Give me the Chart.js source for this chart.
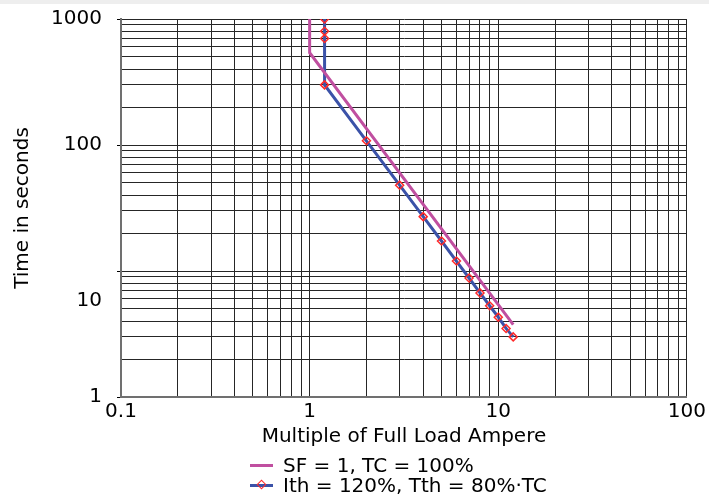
<!DOCTYPE html>
<html>
<head>
<meta charset="utf-8">
<script src="https://cdn.jsdelivr.net/npm/chart.js@4/dist/chart.umd.min.js"></script>
<style>
  body { margin: 0; background: #fff; font-family: "DejaVu Sans", sans-serif; }
  #wrap { position: relative; width: 709px; height: 496px; }
  #topbar { position: absolute; left: 0; top: 0; width: 709px; height: 4px; background: #eee; }
  #legend { position: absolute; left: 250px; top: 455px; font-size: 20px; color: #000; }
  .row { height: 20px; line-height: 20px; display: flex; align-items: center; white-space: nowrap; }
  .swatch { position: relative; width: 23px; height: 3px; margin-right: 10px; }
  .dot { position: absolute; left: 8px; top: -2.5px; width: 5px; height: 5px; border: 1.5px solid #ff2a2a; transform: rotate(45deg); }
</style>
</head>
<body>
<div id="wrap">
  <canvas id="trip-chart" width="709" height="496"></canvas>
  <div id="topbar"></div>
  <div id="legend"></div>
</div>
<script>
'use strict'

// curve 1: SF = 1, TC = 100%
let sfCurrent = [1, 1, 12];
let sfTime = [1000, 540, 3.75];

// curve 2: Ith = 120%, Tth = 80%·TC
let ithCurrent = [1.2, 1.2, 1.2, 1.2, 2, 3, 4, 5, 6, 7, 8, 9, 10, 11, 12];
let ithTime = [1000, 800, 700, 300, 108, 48, 27, 17.3, 12, 8.8, 6.7, 5.3, 4.3, 3.5, 3.0];

let seriesNames = ['SF = 1, TC = 100%', 'Ith = 120%, Tth = 80%·TC'];
let seriesColors = ['#c04fa0', '#3b52a8'];
let markerColor = '#ff2a2a';

// axis decades
let xTickLabels = [0.1, 1, 10, 100];
let yTickLabels = [1, 10, 100, 1000];

function toPoints(xs, ys) {
  let pts = [];
  for (let i = 0; i < xs.length; i++) {
    pts.push({ x: xs[i], y: ys[i] });
  }
  return pts;
}

// 1..9 inside every decade, like printed log paper
function logGrid(decades) {
  let vals = [];
  for (let i = 0; i < decades.length - 1; i++) {
    for (let m = 1; m < 10; m++) {
      vals.push(+(decades[i] * m).toPrecision(3));
    }
  }
  vals.push(decades[decades.length - 1]);
  return vals.map(v => ({ value: v }));
}

function isDecade(v, decades) {
  return decades.some(d => Math.abs(d - v) < 1e-9);
}

let font = { family: '"DejaVu Sans", sans-serif', size: 20 };
let gridColor = '#262626';

let ctx = document.getElementById('trip-chart').getContext('2d');

let chartConfig = {
  type: 'scatter',
  data: {
    datasets: [{
      label: seriesNames[0],
      data: toPoints(sfCurrent, sfTime),
      showLine: true,
      borderColor: seriesColors[0],
      borderWidth: 3,
      pointRadius: 0,
      pointHoverRadius: 0,
    }, {
      label: seriesNames[1],
      data: toPoints(ithCurrent, ithTime),
      showLine: true,
      borderColor: seriesColors[1],
      borderWidth: 3,
      pointStyle: 'rectRot',
      pointRadius: 4,
      pointBorderColor: markerColor,
      pointBackgroundColor: 'rgba(0,0,0,0)',
      pointBorderWidth: 1.5,
    }],
  },
  options: {
    responsive: false,
    animation: false,
    layout: { padding: { left: 0, right: 22, top: 19, bottom: 43 } },
    plugins: {
      legend: { display: false },
      tooltip: { enabled: false },
    },
    scales: {
      x: {
        type: 'logarithmic',
        min: 0.1,
        max: 100,
        afterBuildTicks: scale => { scale.ticks = logGrid(xTickLabels); },
        afterFit: scale => { scale.height = 56; },
        ticks: {
          autoSkip: false,
          maxRotation: 0,
          padding: 3,
          color: '#000',
          font: font,
          callback: v => isDecade(v, xTickLabels) ? String(v) : '',
        },
        grid: { color: gridColor, lineWidth: 1, drawTicks: false },
        border: { color: '#707070', width: 2 },
        title: {
          display: true,
          text: 'Multiple of Full Load Ampere',
          color: '#000',
          font: font,
          padding: { top: 1, bottom: 4 },
        },
      },
      y: {
        type: 'logarithmic',
        min: 1,
        max: 1000,
        afterBuildTicks: scale => { scale.ticks = logGrid(yTickLabels); },
        afterFit: scale => {
          scale.width = 121;
          // keep the label overflow from pushing the plot down
          scale.paddingTop = 12;
          scale.paddingBottom = 12;
        },
        ticks: {
          autoSkip: false,
          padding: 15,
          color: '#000',
          font: { family: font.family, size: 20, lineHeight: 1.5 },
          // the "10" label sits a bit under its line in the original
          callback: v => {
            if (!isDecade(v, yTickLabels)) return '';
            if (v === 10) return ['', '', '10'];
            return String(v);
          },
        },
        grid: {
          color: gridColor,
          lineWidth: 1,
          tickLength: 4,
          tickColor: c => (c.tick && isDecade(c.tick.value, yTickLabels)) ? '#000' : 'rgba(0,0,0,0)',
        },
        border: { color: '#707070', width: 2 },
        title: {
          display: true,
          text: 'Time in seconds',
          color: '#000',
          font: font,
          padding: { top: 11, bottom: 0 },
        },
      },
    },
  },
};

let tripChart = new Chart(ctx, chartConfig);

// html legend, stacked in two rows
let legendBox = document.getElementById('legend');
for (let i = 0; i < seriesNames.length; i++) {
  let row = document.createElement('div');
  row.className = 'row';
  let sw = document.createElement('span');
  sw.className = 'swatch';
  sw.style.background = seriesColors[i];
  if (i === 1) {
    let dot = document.createElement('span');
    dot.className = 'dot';
    sw.appendChild(dot);
  }
  let txt = document.createElement('span');
  txt.textContent = seriesNames[i];
  row.appendChild(sw);
  row.appendChild(txt);
  legendBox.appendChild(row);
}
</script>
</body>
</html>
